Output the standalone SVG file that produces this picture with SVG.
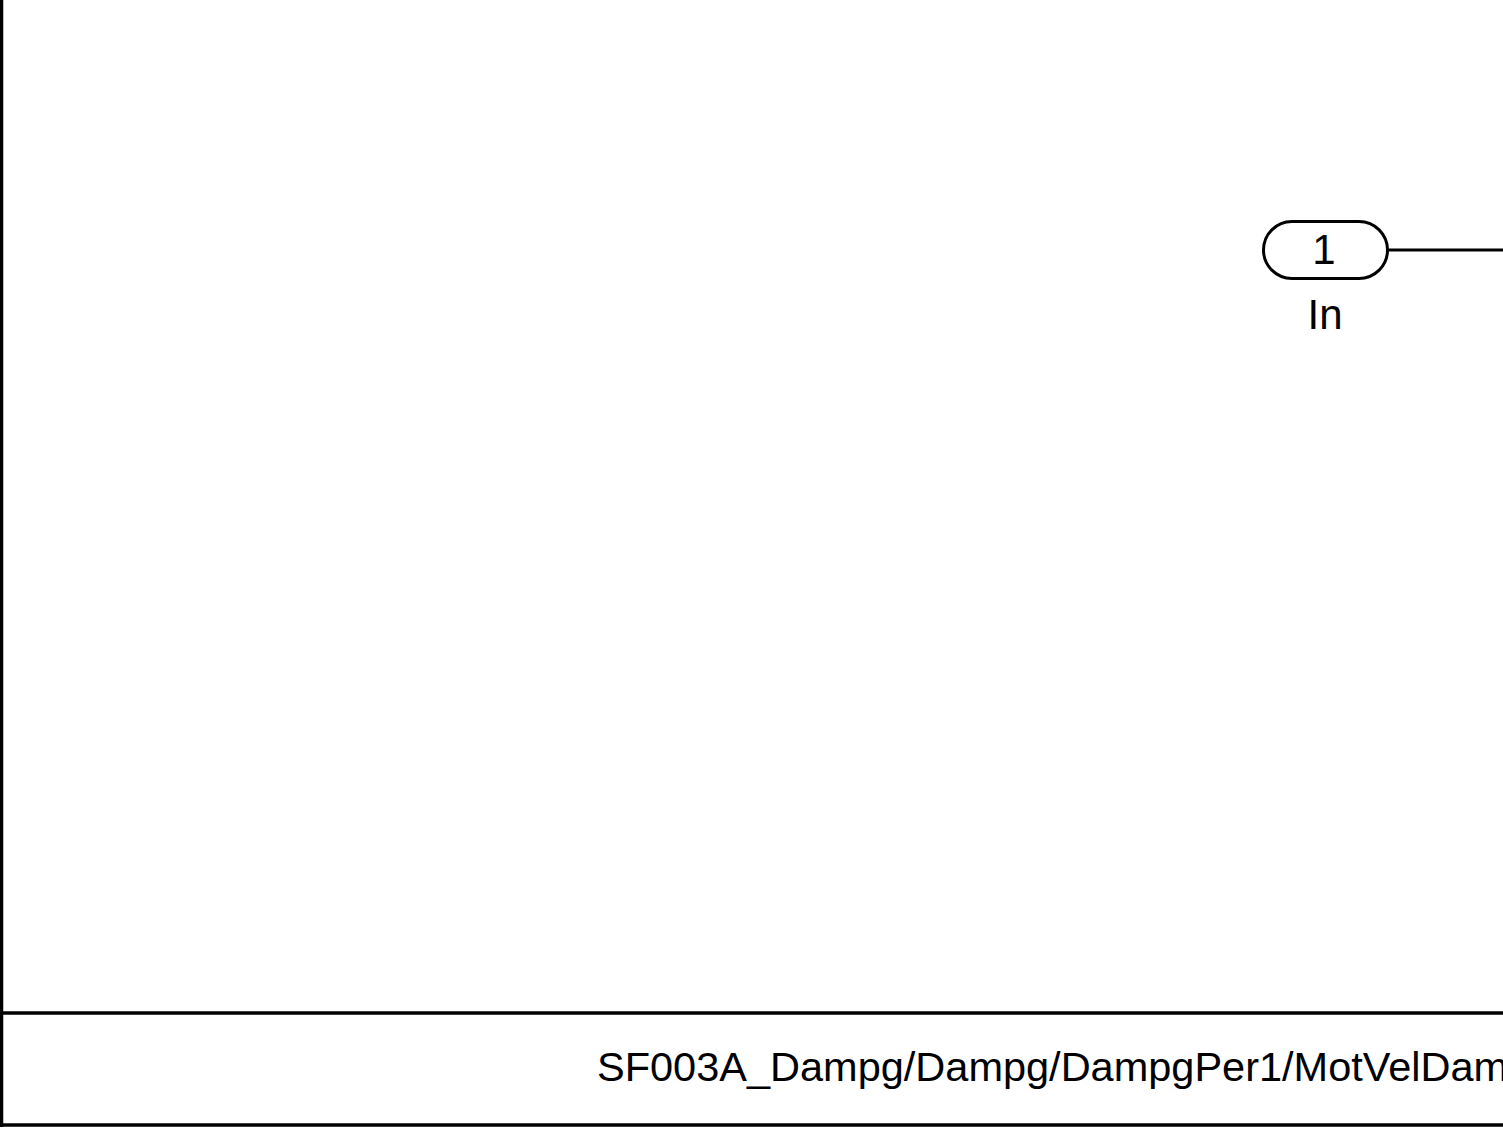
<svg xmlns="http://www.w3.org/2000/svg" width="1503" height="1131" viewBox="0 0 1503 1131">
<style>
.ln{fill:none;stroke:#000;stroke-width:3}
.fr{fill:none;stroke:#000;stroke-width:3.5}
.t{font-family:"Liberation Sans",Arial,sans-serif;font-size:42px;fill:#000}
.tb{font-size:41.5px}
</style>
<rect width="1503" height="1131" fill="#fff"/>
<g id="frame">
<line class="fr" x1="1.5" y1="0" x2="1.5" y2="1127"/>
<line class="fr" x1="0" y1="1013" x2="1503" y2="1013"/>
<line class="fr" x1="0" y1="1125" x2="1503" y2="1125"/>
<text class="t tb" x="597" y="1081">SF003A_Dampg/Dampg/DampgPer1/MotVelDamp</text>
</g>
<g id="connectors">
<line class="ln" x1="1388" y1="250" x2="1503" y2="250"/>
</g>
<g id="in1">
<rect class="ln" x="1263.5" y="221.5" width="124" height="57" rx="28.5" ry="28.5"/>
<text class="t" x="1324" y="264" text-anchor="middle">1</text>
<text class="t" x="1325" y="329" text-anchor="middle">In</text>
</g>
</svg>
